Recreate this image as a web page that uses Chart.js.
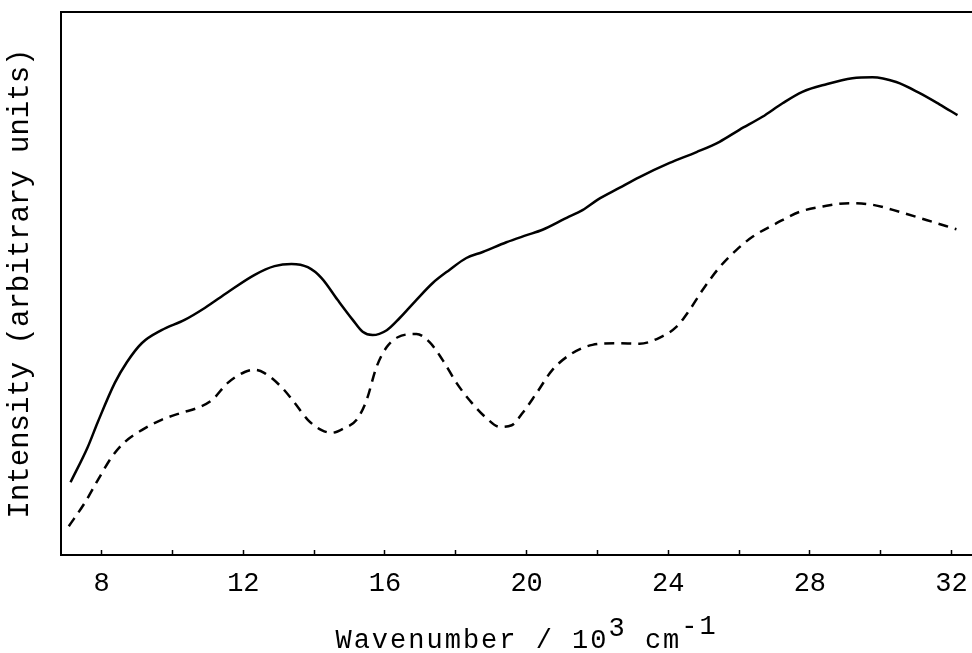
<!DOCTYPE html>
<html>
<head>
<meta charset="utf-8">
<script src="https://cdn.jsdelivr.net/npm/chart.js@4.4.0/dist/chart.umd.min.js"></script>
<style>
html, body { margin: 0; padding: 0; background: #fff; }
</style>
</head>
<body>
<canvas id="graficoEspectro" width="972" height="653"></canvas>
<script>
// curva continua (x en 10^3 cm-1, intensidad arbitraria)
var continuaX = [7.12, 7.60, 7.89, 8.37, 8.71, 9.13, 9.69, 10.34, 10.91, 11.56, 12.32, 12.88, 13.36, 13.82, 14.21, 14.66, 15.09, 15.37, 15.65, 16.05, 16.41, 16.89, 17.35, 17.82, 18.30, 18.76, 19.43, 20.00, 20.45, 21.13, 21.58, 22.00, 22.62, 23.19, 24.04, 24.80, 25.45, 26.01, 26.66, 27.23, 27.79, 28.47, 29.20, 29.77, 30.44, 31.09, 31.66, 32.17];
var continuaY = [13.4, 19.8, 24.5, 31.7, 35.5, 39.0, 41.4, 43.3, 45.5, 48.4, 51.6, 53.2, 53.6, 53.0, 51.0, 47.0, 43.3, 41.1, 40.5, 41.4, 43.6, 47.0, 50.1, 52.5, 54.7, 55.8, 57.6, 58.9, 59.9, 62.1, 63.5, 65.4, 67.6, 69.6, 72.2, 74.2, 76.1, 78.3, 80.7, 83.2, 85.3, 86.7, 87.8, 88.0, 87.1, 85.1, 83.0, 81.0];

// curva discontinua
var discontinuaX = [7.07, 7.52, 7.89, 8.28, 8.65, 9.13, 9.69, 10.26, 10.71, 11.11, 11.56, 12.04, 12.32, 12.60, 13.08, 13.45, 13.82, 14.21, 14.49, 14.86, 15.20, 15.48, 15.76, 16.05, 16.36, 16.89, 17.26, 17.63, 18.02, 18.39, 18.87, 19.24, 19.58, 19.89, 20.28, 20.73, 21.30, 21.86, 22.54, 23.19, 23.75, 24.23, 24.60, 24.97, 25.45, 25.93, 26.38, 27.06, 27.71, 28.47, 29.12, 29.77, 30.53, 31.29, 32.14];
var discontinuaY = [5.3, 9.6, 13.8, 18.0, 20.8, 23.0, 24.9, 26.2, 27.1, 28.5, 31.7, 33.7, 34.1, 33.5, 30.9, 28.0, 24.9, 23.0, 22.5, 23.4, 24.9, 28.5, 34.6, 38.3, 40.1, 40.7, 39.2, 35.9, 31.7, 28.5, 25.2, 23.6, 23.9, 26.2, 29.8, 34.1, 37.2, 38.7, 39.0, 38.9, 40.0, 42.0, 45.1, 48.8, 53.0, 56.2, 58.6, 61.1, 63.2, 64.3, 64.8, 64.5, 63.2, 61.7, 60.0];

var ticksX = [8, 10, 12, 14, 16, 18, 20, 22, 24, 26, 28, 30, 32];
var etiquetasX = [8, 12, 16, 20, 24, 28, 32];

var fuente = '"Liberation Mono", "DejaVu Sans Mono", monospace';

function puntos(xs, ys) {
    return xs.map(function (x, i) {
        return { x: x, y: ys[i] };
    });
}

function sinPadding(scale) {
    scale.paddingLeft = 0;
    scale.paddingRight = 0;
    scale.paddingTop = 0;
    scale.paddingBottom = 0;
}

// titulo del eje x con superindices
var tituloEjeX = {
    id: 'tituloEjeX',
    afterDraw: function (chart) {
        var ctx = chart.ctx;
        var partes = [
            { t: 'Wavenumber / 10', dy: 0 },
            { t: '3', dy: -12 },
            { t: ' cm', dy: 0 },
            { t: '-1', dy: -14 }
        ];
        ctx.save();
        ctx.font = '27px ' + fuente;
        ctx.letterSpacing = '2px';
        ctx.fillStyle = '#000';
        ctx.textAlign = 'left';
        ctx.textBaseline = 'alphabetic';
        var total = 0;
        partes.forEach(function (p) { total += ctx.measureText(p.t).width; });
        var x = chart.scales.x.getPixelForValue(20) - total / 2;
        var base = 648;
        partes.forEach(function (p) {
            ctx.fillText(p.t, x, base + p.dy);
            x += ctx.measureText(p.t).width;
        });
        ctx.restore();
    }
};

var ctx = document.getElementById('graficoEspectro').getContext('2d');
var myChart = new Chart(ctx, {
    type: 'line',
    data: {
        datasets: [{
            label: 'continua',
            data: puntos(continuaX, continuaY),
            borderColor: '#000',
            borderWidth: 2.5,
            pointRadius: 0,
            fill: false,
            cubicInterpolationMode: 'monotone'
        }, {
            label: 'discontinua',
            data: puntos(discontinuaX, discontinuaY),
            borderColor: '#000',
            borderWidth: 2.5,
            borderDash: [10, 7],
            pointRadius: 0,
            fill: false,
            cubicInterpolationMode: 'monotone'
        }]
    },
    options: {
        responsive: false,
        animation: false,
        layout: { padding: 0 },
        plugins: {
            legend: { display: false },
            tooltip: { enabled: false }
        },
        scales: {
            x: {
                type: 'linear',
                position: 'bottom',
                min: 6.85,
                max: 32.58,
                afterBuildTicks: function (scale) {
                    scale.ticks = ticksX.map(function (v) { return { value: v }; });
                },
                afterFit: function (scale) {
                    scale.height = 98;
                    sinPadding(scale);
                },
                ticks: {
                    autoSkip: false,
                    maxRotation: 0,
                    padding: 18,
                    color: '#000',
                    font: { family: fuente, size: 27 },
                    callback: function (value) {
                        return etiquetasX.indexOf(value) >= 0 ? String(value) : '';
                    }
                },
                grid: {
                    drawOnChartArea: false,
                    drawTicks: true,
                    tickLength: -5,
                    tickColor: '#000',
                    tickWidth: 1.5
                },
                border: { display: true, color: '#000', width: 2 }
            },
            xTop: {
                type: 'linear',
                position: 'top',
                min: 6.85,
                max: 32.58,
                afterFit: function (scale) {
                    scale.height = 12;
                    sinPadding(scale);
                },
                ticks: { display: false },
                grid: { drawOnChartArea: false, drawTicks: false },
                border: { display: true, color: '#000', width: 2 }
            },
            y: {
                type: 'linear',
                min: 0,
                max: 100,
                afterFit: function (scale) {
                    scale.width = 61;
                    sinPadding(scale);
                },
                ticks: { display: false },
                grid: { drawOnChartArea: false, drawTicks: false },
                border: { display: true, color: '#000', width: 2 },
                title: {
                    display: true,
                    text: 'Intensity (arbitrary units)',
                    color: '#000',
                    font: { family: fuente, size: 29 },
                    padding: { top: 3, bottom: 0 }
                }
            }
        }
    },
    plugins: [tituloEjeX]
});
</script>
</body>
</html>
